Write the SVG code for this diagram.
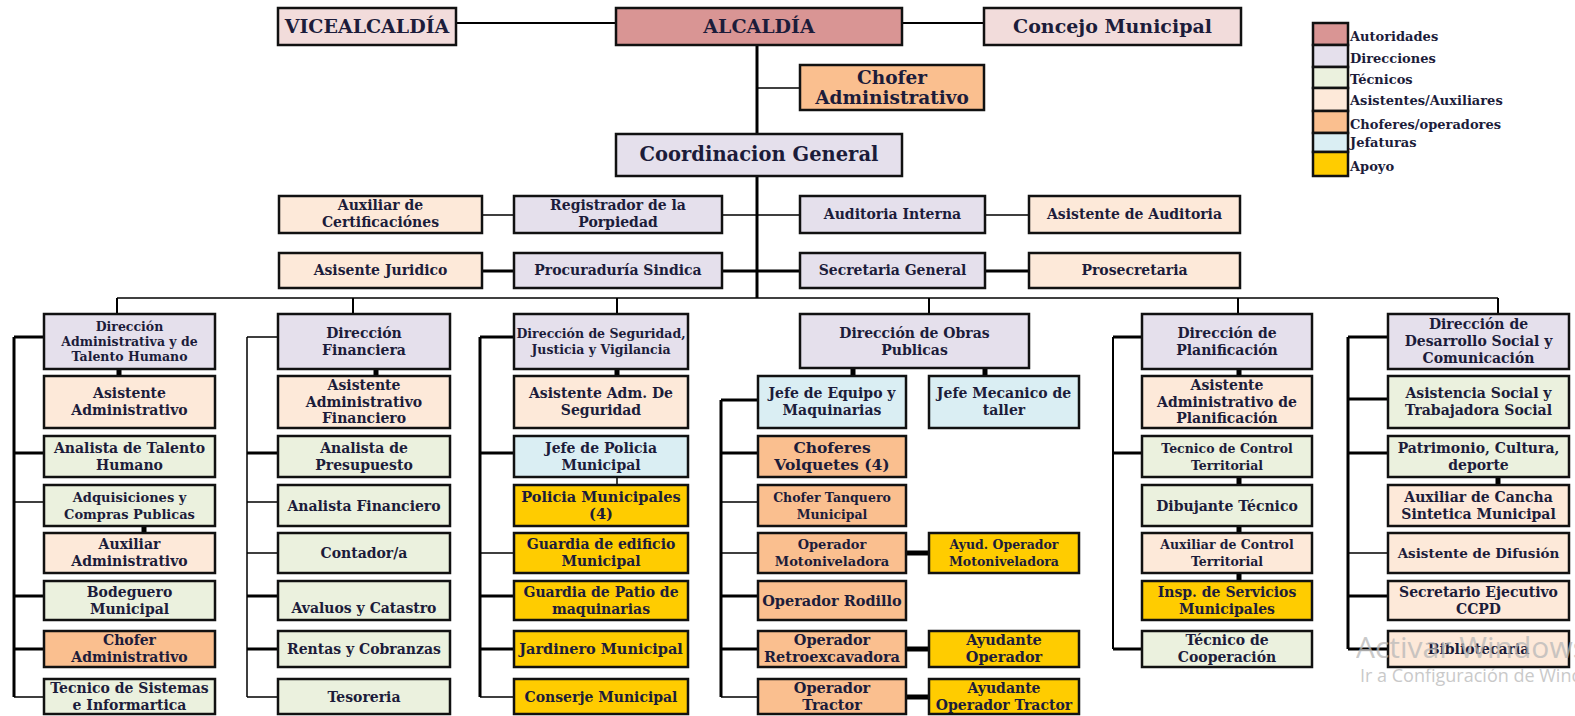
<svg xmlns="http://www.w3.org/2000/svg" width="1575" height="716" viewBox="0 0 1575 716">
<style>
rect.b{stroke:#111;stroke-width:2.5}
.au{fill:#d99594}.vp{fill:#f2dcdb}.di{fill:#e5e0ec}.te{fill:#ebf1de}.as{fill:#fde9d9}.ch{fill:#fabf8f}.je{fill:#daeef3}.ap{fill:#ffcc00}
text{font-family:"DejaVu Serif","Liberation Serif",serif;font-weight:bold;fill:#1c1c3a;text-anchor:middle;font-size:14px}
.f19{font-size:19px}.f195{font-size:19.5px}.f18{font-size:18.5px}.f12{font-size:12.5px}.f13{font-size:13px}.f135{font-size:13.5px}.f145{font-size:14.5px}.f155{font-size:15.5px}
.lg{text-anchor:start;font-size:13px}
.c1{stroke:#000;stroke-width:1.5;fill:none}.c2{stroke:#000;stroke-width:2;fill:none}.c3{stroke:#000;stroke-width:3;fill:none}.c5{stroke:#000;stroke-width:5;fill:none}
.wm{font-family:"Open Sans","Noto Sans",sans-serif;font-weight:normal;text-anchor:start;fill:#b8b8b8;opacity:0.75}
.wm1{font-size:30px}.wm2{font-size:18px}
</style>
<rect width="1575" height="716" fill="#fff"/>
<g id="connectors">
<path class="c2" d="M456 23H616M902 23H984"/>
<path class="c3" d="M757 45V298"/>
<path class="c1" d="M757 88H800"/>
<path class="c1" d="M482 215H514M722 215H800M985 215H1029"/>
<path class="c3" d="M482 271H514M722 271H800M985 271H1029"/>
<path class="c1" d="M117 298H1498"/>
<path class="c2" d="M117 298V314M353 298V314M617 298V314M929 298V314M1238 298V314M1498 298V314"/>
<path class="c5" d="M119 369V376M144 526V533M376 369V376M617 369V376M853 368V376M985 368V376M1239 369V376M1239 477V485M1239 526V533M1239 573V581M1498 477V485"/>
<path class="c1" d="M617 477V485"/>
<path class="c3" d="M14 337V697M14 337H44M14 453H44M14 596H44M14 649H44"/>
<path class="c1" d="M14 502H44M14 697H44"/>
<path class="c1" d="M247 337V697M247 337H278M247 502H278M247 553H278M247 697H278"/>
<path class="c3" d="M247 453H278M247 596H278M247 649H278"/>
<path class="c3" d="M480 337V697M480 337H514M480 453H514M480 596H514M480 649H514"/>
<path class="c1" d="M480 553H514M480 697H514"/>
<path class="c3" d="M721 400V697M721 400H758M721 453H758M721 596H758M721 649H758"/>
<path class="c1" d="M721 502H758M721 553H758M721 697H758"/>
<path class="c5" d="M906 553H929M906 649H929M906 697H929"/>
<path class="c2" d="M1113 337V649"/>
<path class="c3" d="M1113 337H1142M1113 453H1142M1113 649H1142"/>
<path class="c3" d="M1348 337V649M1348 337H1388M1348 399H1388M1348 453H1388M1348 596H1388M1348 649H1388"/>
<path class="c1" d="M1348 553H1388"/>
</g>
<g id="n-vice"><rect class="b vp" x="278" y="8" width="178" height="37"/><text class="f19" x="367" y="33">VICEALCALDÍA</text></g>
<g id="n-alcaldia"><rect class="b au" x="616" y="8" width="286" height="37"/><text class="f19" x="759" y="33">ALCALDÍA</text></g>
<g id="n-concejo"><rect class="b vp" x="984" y="8" width="257" height="37"/><text class="f19" x="1112.5" y="33">Concejo Municipal</text></g>
<g id="n-chofer-top"><rect class="b ch" x="800" y="65" width="184" height="45"/><text class="f18" x="892" y="84">Chofer</text><text class="f18" x="892" y="104">Administrativo</text></g>
<g id="n-coord"><rect class="b di" x="616" y="134" width="286" height="42"/><text class="f195" x="759" y="161">Coordinacion General</text></g>
<g id="n-auxcert"><rect class="b as" x="279" y="196" width="203" height="37"/><text x="380.5" y="210">Auxiliar de</text><text x="380.5" y="227">Certificaciónes</text></g>
<g id="n-registrador"><rect class="b di" x="514" y="196" width="208" height="37"/><text x="618" y="210">Registrador de la</text><text x="618" y="227">Porpiedad</text></g>
<g id="n-auditoria"><rect class="b di" x="800" y="196" width="185" height="37"/><text x="892.5" y="219">Auditoria Interna</text></g>
<g id="n-asistaud"><rect class="b as" x="1029" y="196" width="211" height="37"/><text x="1134.5" y="219">Asistente de Auditoria</text></g>
<g id="n-juridico"><rect class="b as" x="279" y="253" width="203" height="35"/><text x="380.5" y="275">Asisente Juridico</text></g>
<g id="n-procuraduria"><rect class="b di" x="514" y="253" width="208" height="35"/><text x="618" y="275">Procuraduría Sindica</text></g>
<g id="n-secretaria"><rect class="b di" x="800" y="253" width="185" height="35"/><text x="892.5" y="275">Secretaria General</text></g>
<g id="n-prosecretaria"><rect class="b as" x="1029" y="253" width="211" height="35"/><text x="1134.5" y="275">Prosecretaria</text></g>

<g id="c1-dir"><rect class="b di" x="44" y="314" width="171" height="55"/><text class="f12" x="129.5" y="330.5">Dirección</text><text class="f12" x="129.5" y="345.5">Administrativa y de</text><text class="f12" x="129.5" y="360.5">Talento Humano</text></g>
<g id="c1-r1"><rect class="b as" x="44" y="376" width="171" height="52"/><text x="129.5" y="398">Asistente</text><text x="129.5" y="415">Administrativo</text></g>
<g id="c1-r2"><rect class="b te" x="44" y="436" width="171" height="41"/><text x="129.5" y="452.5">Analista de Talento</text><text x="129.5" y="469.5">Humano</text></g>
<g id="c1-r3"><rect class="b te" x="44" y="485" width="171" height="41"/><text class="f13" x="129.5" y="501.5">Adquisiciones y</text><text class="f13" x="129.5" y="518.5">Compras Publicas</text></g>
<g id="c1-r4"><rect class="b as" x="44" y="533" width="171" height="40"/><text x="129.5" y="549">Auxiliar</text><text x="129.5" y="566">Administrativo</text></g>
<g id="c1-r5"><rect class="b te" x="44" y="581" width="171" height="39"/><text x="129.5" y="596.5">Bodeguero</text><text x="129.5" y="613.5">Municipal</text></g>
<g id="c1-r6"><rect class="b ch" x="44" y="631" width="171" height="36"/><text x="129.5" y="645">Chofer</text><text x="129.5" y="662">Administrativo</text></g>
<g id="c1-r7"><rect class="b te" x="44" y="679" width="171" height="35"/><text x="129.5" y="692.5">Tecnico de Sistemas</text><text x="129.5" y="709.5">e Informartica</text></g>

<g id="c2-dir"><rect class="b di" x="278" y="314" width="172" height="55"/><text x="364" y="337.5">Dirección</text><text x="364" y="354.5">Financiera</text></g>
<g id="c2-r1"><rect class="b as" x="278" y="376" width="172" height="52"/><text x="364" y="390">Asistente</text><text x="364" y="406.5">Administrativo</text><text x="364" y="423">Financiero</text></g>
<g id="c2-r2"><rect class="b te" x="278" y="436" width="172" height="41"/><text x="364" y="452.5">Analista de</text><text x="364" y="469.5">Presupuesto</text></g>
<g id="c2-r3"><rect class="b te" x="278" y="485" width="172" height="41"/><text x="364" y="510.5">Analista Financiero</text></g>
<g id="c2-r4"><rect class="b te" x="278" y="533" width="172" height="40"/><text x="364" y="558">Contador/a</text></g>
<g id="c2-r5"><rect class="b te" x="278" y="581" width="172" height="39"/><text x="364" y="613">Avaluos y Catastro</text></g>
<g id="c2-r6"><rect class="b te" x="278" y="631" width="172" height="36"/><text x="364" y="654">Rentas y Cobranzas</text></g>
<g id="c2-r7"><rect class="b te" x="278" y="679" width="172" height="35"/><text x="364" y="701.5">Tesoreria</text></g>

<g id="c3-dir"><rect class="b di" x="514" y="314" width="174" height="55"/><text class="f12" x="601" y="337.5">Dirección de Seguridad,</text><text class="f12" x="601" y="353.5">Justicia y Vigilancia</text></g>
<g id="c3-r1"><rect class="b as" x="514" y="376" width="174" height="52"/><text x="601" y="398">Asistente Adm. De</text><text x="601" y="415">Seguridad</text></g>
<g id="c3-r2"><rect class="b je" x="514" y="436" width="174" height="41"/><text x="601" y="452.5">Jefe de Policia</text><text x="601" y="469.5">Municipal</text></g>
<g id="c3-r3"><rect class="b ap" x="514" y="485" width="174" height="41"/><text class="f145" x="601" y="501.5">Policia Municipales</text><text class="f145" x="601" y="518.5">(4)</text></g>
<g id="c3-r4"><rect class="b ap" x="514" y="533" width="174" height="40"/><text x="601" y="549">Guardia de edificio</text><text x="601" y="566">Municipal</text></g>
<g id="c3-r5"><rect class="b ap" x="514" y="581" width="174" height="39"/><text x="601" y="596.5">Guardia de Patio de</text><text x="601" y="613.5">maquinarias</text></g>
<g id="c3-r6"><rect class="b ap" x="514" y="631" width="174" height="36"/><text class="f145" x="601" y="654">Jardinero Municipal</text></g>
<g id="c3-r7"><rect class="b ap" x="514" y="679" width="174" height="35"/><text x="601" y="701.5">Conserje Municipal</text></g>

<g id="c4-dir"><rect class="b di" x="800" y="314" width="229" height="54"/><text x="914.5" y="337.5">Dirección de Obras</text><text x="914.5" y="354.5">Publicas</text></g>
<g id="c4-jefeq"><rect class="b je" x="758" y="376" width="148" height="52"/><text x="832" y="398">Jefe de Equipo y</text><text x="832" y="415">Maquinarias</text></g>
<g id="c4-jefmec"><rect class="b je" x="929" y="376" width="150" height="52"/><text x="1004" y="398">Jefe Mecanico de</text><text x="1004" y="415">taller</text></g>
<g id="c4-r2"><rect class="b ch" x="758" y="436" width="148" height="41"/><text class="f155" x="832" y="452.5">Choferes</text><text class="f155" x="832" y="470">Volquetes (4)</text></g>
<g id="c4-r3"><rect class="b ch" x="758" y="485" width="148" height="41"/><text class="f12" x="832" y="501.5">Chofer Tanquero</text><text class="f12" x="832" y="518.5">Municipal</text></g>
<g id="c4-r4"><rect class="b ch" x="758" y="533" width="148" height="40"/><text class="f13" x="832" y="549">Operador</text><text class="f13" x="832" y="566">Motoniveladora</text></g>
<g id="c4-r4b"><rect class="b ap" x="929" y="533" width="150" height="40"/><text class="f12" x="1004" y="549">Ayud. Operador</text><text class="f12" x="1004" y="566">Motoniveladora</text></g>
<g id="c4-r5"><rect class="b ch" x="758" y="581" width="148" height="39"/><text class="f145" x="832" y="605.5">Operador Rodillo</text></g>
<g id="c4-r6"><rect class="b ch" x="758" y="631" width="148" height="36"/><text class="f145" x="832" y="645">Operador</text><text class="f145" x="832" y="662">Retroexcavadora</text></g>
<g id="c4-r6b"><rect class="b ap" x="929" y="631" width="150" height="36"/><text class="f145" x="1004" y="645">Ayudante</text><text class="f145" x="1004" y="662">Operador</text></g>
<g id="c4-r7"><rect class="b ch" x="758" y="679" width="148" height="35"/><text class="f145" x="832" y="692.5">Operador</text><text class="f145" x="832" y="709.5">Tractor</text></g>
<g id="c4-r7b"><rect class="b ap" x="929" y="679" width="150" height="35"/><text x="1004" y="692.5">Ayudante</text><text x="1004" y="709.5">Operador Tractor</text></g>

<g id="c5-dir"><rect class="b di" x="1142" y="314" width="170" height="55"/><text x="1227" y="337.5">Dirección de</text><text x="1227" y="354.5">Planificación</text></g>
<g id="c5-r1"><rect class="b as" x="1142" y="376" width="170" height="52"/><text x="1227" y="390">Asistente</text><text x="1227" y="406.5">Administrativo de</text><text x="1227" y="423">Planificación</text></g>
<g id="c5-r2"><rect class="b te" x="1142" y="436" width="170" height="41"/><text class="f12" x="1227" y="452.5">Tecnico de Control</text><text class="f12" x="1227" y="469.5">Territorial</text></g>
<g id="c5-r3"><rect class="b te" x="1142" y="485" width="170" height="41"/><text x="1227" y="510.5">Dibujante Técnico</text></g>
<g id="c5-r4"><rect class="b as" x="1142" y="533" width="170" height="40"/><text class="f12" x="1227" y="549">Auxiliar de Control</text><text class="f12" x="1227" y="566">Territorial</text></g>
<g id="c5-r5"><rect class="b ap" x="1142" y="581" width="170" height="39"/><text x="1227" y="596.5">Insp. de Servicios</text><text x="1227" y="613.5">Municipales</text></g>
<g id="c5-r6"><rect class="b te" x="1142" y="631" width="170" height="36"/><text x="1227" y="645">Técnico de</text><text x="1227" y="662">Cooperación</text></g>

<g id="c6-dir"><rect class="b di" x="1388" y="314" width="181" height="55"/><text x="1478.5" y="329">Dirección de</text><text x="1478.5" y="346">Desarrollo Social y</text><text x="1478.5" y="363">Comunicación</text></g>
<g id="c6-r1"><rect class="b te" x="1388" y="376" width="181" height="52"/><text x="1478.5" y="398">Asistencia Social y</text><text x="1478.5" y="415">Trabajadora Social</text></g>
<g id="c6-r2"><rect class="b te" x="1388" y="436" width="181" height="41"/><text x="1478.5" y="452.5">Patrimonio, Cultura,</text><text x="1478.5" y="469.5">deporte</text></g>
<g id="c6-r3"><rect class="b as" x="1388" y="485" width="181" height="41"/><text x="1478.5" y="501.5">Auxiliar de Cancha</text><text x="1478.5" y="518.5">Sintetica Municipal</text></g>
<g id="c6-r4"><rect class="b as" x="1388" y="533" width="181" height="40"/><text class="f135" x="1478.5" y="558">Asistente de Difusión</text></g>
<g id="c6-r5"><rect class="b as" x="1388" y="581" width="181" height="39"/><text x="1478.5" y="596.5">Secretario Ejecutivo</text><text x="1478.5" y="613.5">CCPD</text></g>
<g id="c6-r6"><rect class="b as" x="1388" y="631" width="181" height="36"/><text x="1478.5" y="654">Bibliotecaria</text></g>

<g id="legend">
<rect class="b au" x="1313" y="23" width="35" height="22"/>
<rect class="b di" x="1313" y="45" width="35" height="22"/>
<rect class="b te" x="1313" y="67" width="35" height="21"/>
<rect class="b as" x="1313" y="88" width="35" height="23"/>
<rect class="b ch" x="1313" y="111" width="35" height="22"/>
<rect class="b je" x="1313" y="133" width="35" height="19"/>
<rect class="b ap" x="1313" y="152" width="35" height="24"/>
<text class="lg" x="1350" y="41">Autoridades</text>
<text class="lg" x="1350" y="63">Direcciones</text>
<text class="lg" x="1350" y="84">Técnicos</text>
<text class="lg" x="1350" y="105">Asistentes/Auxiliares</text>
<text class="lg" x="1350" y="129">Choferes/operadores</text>
<text class="lg" x="1350" y="147">Jefaturas</text>
<text class="lg" x="1350" y="171">Apoyo</text>
</g>
<g id="watermark">
<text class="wm wm1" x="1356" y="658">Activar Windows</text>
<text class="wm wm2" x="1360" y="682">Ir a Configuración de Windows para activar Windows.</text>
</g>
</svg>
